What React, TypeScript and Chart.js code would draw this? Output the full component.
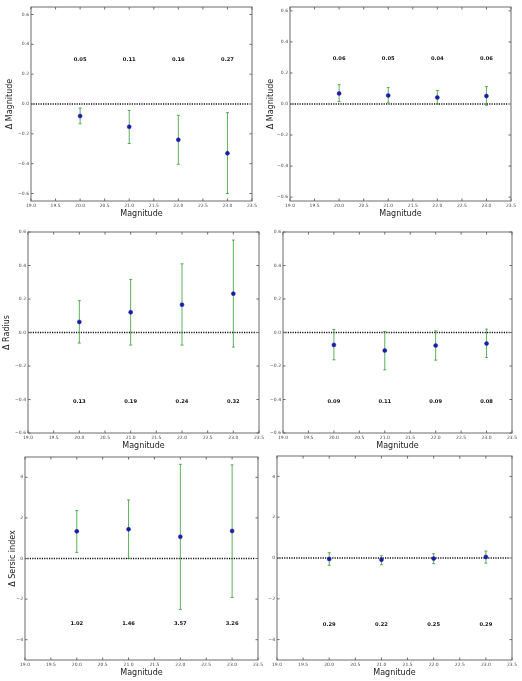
import React, { useEffect, useRef } from "react";
import { Chart, registerables } from "chart.js";

Chart.register(...registerables);

// ---------- data ----------
const MAGS = [20, 21, 22, 23];
const X_TICKS = [19.0, 19.5, 20.0, 20.5, 21.0, 21.5, 22.0, 22.5, 23.0, 23.5];
const ZERO_LINE_X = [19.0, 23.45];
const SMALL_Y_TICKS = [-0.6, -0.4, -0.2, 0.0, 0.2, 0.4, 0.6];
const SERSIC_Y_TICKS = [-4, -2, 0, 2, 4];

// Panel 1: Δ Magnitude (left)
const P1_MEAN = [-0.081, -0.153, -0.24, -0.33];
const P1_LO = [-0.133, -0.265, -0.404, -0.6];
const P1_HI = [-0.027, -0.043, -0.076, -0.058];
const P1_TEXT = ["0.05", "0.11", "0.16", "0.27"];

// Panel 2: Δ Magnitude (right)
const P2_MEAN = [0.068, 0.055, 0.042, 0.051];
const P2_LO = [0.015, 0.008, 0.0, -0.008];
const P2_HI = [0.125, 0.106, 0.087, 0.112];
const P2_TEXT = ["0.06", "0.05", "0.04", "0.06"];

// Panel 3: Δ Radius (left)
const P3_MEAN = [0.063, 0.121, 0.166, 0.232];
const P3_LO = [-0.063, -0.075, -0.075, -0.087];
const P3_HI = [0.19, 0.317, 0.41, 0.552];
const P3_TEXT = ["0.13", "0.19", "0.24", "0.32"];

// Panel 4: Δ Radius (right)
const P4_MEAN = [-0.074, -0.108, -0.078, -0.066];
const P4_LO = [-0.163, -0.223, -0.165, -0.149];
const P4_HI = [0.018, 0.006, 0.01, 0.02];
const P4_TEXT = ["0.09", "0.11", "0.09", "0.08"];

// Panel 5: Δ Sersic index (left)
const P5_MEAN = [1.34, 1.44, 1.07, 1.36];
const P5_LO = [0.3, 0.0, -2.51, -1.92];
const P5_HI = [2.36, 2.89, 4.64, 4.61];
const P5_TEXT = ["1.02", "1.46", "3.57", "3.26"];

// Panel 6: Δ Sersic index (right)
const P6_MEAN = [-0.05, -0.08, -0.03, 0.05];
const P6_LO = [-0.36, -0.33, -0.28, -0.25];
const P6_HI = [0.26, 0.11, 0.21, 0.34];
const P6_TEXT = ["0.29", "0.22", "0.25", "0.29"];

// ---------- styles ----------
const FONT = "'DejaVu Sans', sans-serif";
const POINT_COLOR = "#1b1ba8";
const ERR_COLOR = "rgba(40,150,40,0.75)";
const FRAME_COLOR = "#6a6a6a";
const TICK_TEXT = "#444";
const PAD_L = 30;
const PAD_T = 6;
const PAD_R = 10;
const PAD_B = 22;

type PanelCfg = {
  box: { L: number; R: number; T: number; B: number };
  yMin: number;
  yMax: number;
  yTicks: number[];
  yDec: number;
  mean: number[];
  lo: number[];
  hi: number[];
  text: string[];
  textY: number;
  yTitle: string | null;
  yTitleOff: number;
};

const PANELS: PanelCfg[] = [
  { box: { L: 31, R: 252, T: 7, B: 201 }, yMin: -0.65, yMax: 0.65, yTicks: SMALL_Y_TICKS, yDec: 1,
    mean: P1_MEAN, lo: P1_LO, hi: P1_HI, text: P1_TEXT, textY: 0.3, yTitle: "\u0394 Magnitude", yTitleOff: 21 },
  { box: { L: 290, R: 511, T: 7, B: 201 }, yMin: -0.625, yMax: 0.625, yTicks: SMALL_Y_TICKS, yDec: 1,
    mean: P2_MEAN, lo: P2_LO, hi: P2_HI, text: P2_TEXT, textY: 0.29, yTitle: "\u0394 Magnitude", yTitleOff: 19 },
  { box: { L: 28, R: 259, T: 232, B: 433 }, yMin: -0.6, yMax: 0.6, yTicks: SMALL_Y_TICKS, yDec: 1,
    mean: P3_MEAN, lo: P3_LO, hi: P3_HI, text: P3_TEXT, textY: -0.41, yTitle: "\u0394 Radius", yTitleOff: 21 },
  { box: { L: 283, R: 512, T: 232, B: 433 }, yMin: -0.6, yMax: 0.6, yTicks: SMALL_Y_TICKS, yDec: 1,
    mean: P4_MEAN, lo: P4_LO, hi: P4_HI, text: P4_TEXT, textY: -0.41, yTitle: null, yTitleOff: 0 },
  { box: { L: 25, R: 258, T: 457, B: 660 }, yMin: -5, yMax: 5, yTicks: SERSIC_Y_TICKS, yDec: 0,
    mean: P5_MEAN, lo: P5_LO, hi: P5_HI, text: P5_TEXT, textY: -3.22, yTitle: "\u0394 Sersic index", yTitleOff: 12 },
  { box: { L: 277, R: 512, T: 456, B: 660 }, yMin: -5, yMax: 5, yTicks: SERSIC_Y_TICKS, yDec: 0,
    mean: P6_MEAN, lo: P6_LO, hi: P6_HI, text: P6_TEXT, textY: -3.25, yTitle: null, yTitleOff: 0 },
];

const fmt = (v: number, dec: number) => {
  const s = Math.abs(v).toFixed(dec);
  return v < -1e-9 ? "\u2212" + s : s;
};

const framePlugin = {
  id: "frameDeco",
  afterDatasetsDraw(chart: any, _args: any, opts: any) {
    const { ctx, chartArea: a, scales } = chart;
    const xs = scales.x;
    const ys = scales.y;
    ctx.save();
    // frame
    ctx.strokeStyle = FRAME_COLOR;
    ctx.lineWidth = 1;
    ctx.strokeRect(a.left, a.top, a.right - a.left, a.bottom - a.top);
    // inward ticks on all sides
    ctx.beginPath();
    const tl = 2.5;
    xs.ticks.forEach((t: any) => {
      const px = xs.getPixelForValue(t.value);
      ctx.moveTo(px, a.bottom);
      ctx.lineTo(px, a.bottom - tl);
      ctx.moveTo(px, a.top);
      ctx.lineTo(px, a.top + tl);
    });
    ys.ticks.forEach((t: any) => {
      const py = ys.getPixelForValue(t.value);
      ctx.moveTo(a.left, py);
      ctx.lineTo(a.left + tl, py);
      ctx.moveTo(a.right, py);
      ctx.lineTo(a.right - tl, py);
    });
    ctx.stroke();
    // annotation numbers
    ctx.fillStyle = "#111";
    ctx.font = "bold 5.2px " + FONT;
    ctx.textAlign = "center";
    ctx.textBaseline = "middle";
    (opts.text as string[]).forEach((s, i) => {
      ctx.fillText(s, xs.getPixelForValue(MAGS[i]), ys.getPixelForValue(opts.textY));
    });
    // axis titles
    ctx.fillStyle = "#222";
    ctx.font = "8px " + FONT;
    ctx.fillText("Magnitude", (a.left + a.right) / 2, a.bottom + 12.5);
    if (opts.yTitle) {
      ctx.translate(a.left - opts.yTitleOff, (a.top + a.bottom) / 2);
      ctx.rotate(-Math.PI / 2);
      ctx.fillText(opts.yTitle, 0, 0);
    }
    ctx.restore();
  },
};

function Panel({ cfg }: { cfg: PanelCfg }) {
  const ref = useRef<HTMLCanvasElement | null>(null);
  const { box } = cfg;
  const w = box.R - box.L + PAD_L + PAD_R;
  const h = box.B - box.T + PAD_T + PAD_B;

  useEffect(() => {
    if (!ref.current) return;
    const datasets: any[] = [];
    datasets.push({
      type: "scatter",
      data: MAGS.map((x, i) => ({ x, y: cfg.mean[i] })),
      pointRadius: 2,
      pointBackgroundColor: POINT_COLOR,
      pointBorderColor: POINT_COLOR,
      pointBorderWidth: 0.5,
    });
    datasets.push({
      type: "scatter",
      data: [
        ...MAGS.map((x, i) => ({ x, y: cfg.lo[i] })),
        ...MAGS.map((x, i) => ({ x, y: cfg.hi[i] })),
      ],
      pointStyle: "line",
      pointRadius: 1.5,
      pointBorderColor: ERR_COLOR,
      pointBorderWidth: 1,
    });
    MAGS.forEach((x, i) => {
      datasets.push({
        type: "scatter",
        showLine: true,
        data: [
          { x, y: cfg.lo[i] },
          { x, y: cfg.hi[i] },
        ],
        borderColor: ERR_COLOR,
        borderWidth: 1,
        pointRadius: 0,
      });
    });
    datasets.push({
      type: "scatter",
      showLine: true,
      data: ZERO_LINE_X.map((x) => ({ x, y: 0 })),
      borderColor: "#111",
      borderWidth: 1.3,
      borderDash: [1.2, 1.2],
      pointRadius: 0,
    });

    const chart = new Chart(ref.current, {
      type: "scatter",
      data: { datasets },
      plugins: [framePlugin],
      options: {
        responsive: false,
        maintainAspectRatio: false,
        animation: false,
        events: [],
        layout: { padding: { top: PAD_T, right: PAD_R, left: 0, bottom: 0 } },
        plugins: {
          legend: { display: false },
          tooltip: { enabled: false },
          frameDeco: { text: cfg.text, textY: cfg.textY, yTitle: cfg.yTitle, yTitleOff: cfg.yTitleOff },
        } as any,
        scales: {
          x: {
            type: "linear",
            min: 19,
            max: 23.5,
            afterBuildTicks: (s: any) => {
              s.ticks = X_TICKS.map((v) => ({ value: v }));
            },
            afterFit: (s: any) => {
              s.height = PAD_B;
            },
            grid: { display: false, drawTicks: false, tickLength: 0 },
            border: { display: false },
            ticks: {
              autoSkip: false,
              maxRotation: 0,
              padding: 2,
              color: TICK_TEXT,
              font: { family: FONT, size: 4.5 },
              callback: (v: any) => fmt(Number(v), 1),
            },
          },
          y: {
            type: "linear",
            min: cfg.yMin,
            max: cfg.yMax,
            afterBuildTicks: (s: any) => {
              s.ticks = cfg.yTicks.map((v) => ({ value: v }));
            },
            afterFit: (s: any) => {
              s.width = PAD_L;
            },
            grid: { display: false, drawTicks: false, tickLength: 0 },
            border: { display: false },
            ticks: {
              autoSkip: false,
              padding: 2,
              color: TICK_TEXT,
              font: { family: FONT, size: 4.5 },
              callback: (v: any) => fmt(Number(v), cfg.yDec),
            },
          },
        },
      },
    } as any);
    return () => chart.destroy();
  }, []);

  return (
    <canvas
      ref={ref}
      width={w}
      height={h}
      style={{
        position: "absolute",
        left: box.L - PAD_L,
        top: box.T - PAD_T,
        width: w,
        height: h,
      }}
    />
  );
}

export default function App() {
  return (
    <div style={{ position: "absolute", left: 0, top: 0, width: 522, height: 681, background: "#fff", overflow: "hidden" }}>
      {PANELS.map((p, i) => (
        <Panel key={i} cfg={p} />
      ))}
    </div>
  );
}
